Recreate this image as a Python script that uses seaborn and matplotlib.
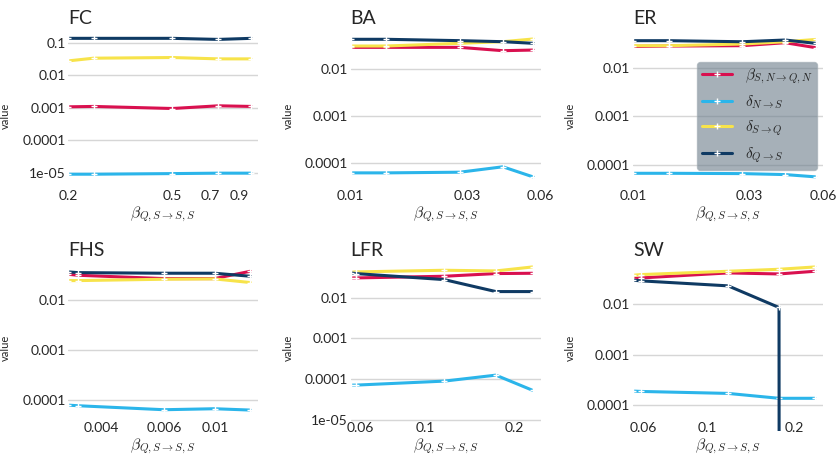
import numpy as np
import pandas as pd
import matplotlib
matplotlib.use("Agg")
import matplotlib.pyplot as plt
import matplotlib.ticker as mticker
import seaborn as sns

# ---------------- data ----------------
SERIES = [r"$\beta_{S,N\to Q,N}$", r"$\delta_{N\to S}$", r"$\delta_{S\to Q}$", r"$\delta_{Q\to S}$"]
COLORS = ["#d9104f", "#2bb5ea", "#f7e34a", "#0f3a63"]
PANELS = ["FC", "BA", "ER", "FHS", "LFR", "SW"]

FC_X = [0.2, 0.25, 0.5, 0.75, 1.0]
FC_BETA_SN = [0.00107, 0.0011, 0.00095, 0.00115, 0.0011]
FC_DELTA_NS = [9.1e-6, 9.1e-6, 9.5e-6, 9.8e-6, 9.8e-6]
FC_DELTA_SQ = [0.0276, 0.0334, 0.035, 0.0318, 0.0318]
FC_DELTA_QS = [0.136, 0.136, 0.136, 0.126, 0.136]
FC_TICKS = [0.2, 0.5, 0.7, 0.9]
FC_TICKLABELS = ["0.2", "0.5", "0.7", "0.9"]

BA_X = [0.01, 0.014, 0.028, 0.042, 0.056]
BA_BETA_SN = [0.0291, 0.0291, 0.0291, 0.0247, 0.0255]
BA_DELTA_NS = [6.0e-5, 6.0e-5, 6.2e-5, 8.1e-5, 4.9e-5]
BA_DELTA_SQ = [0.0311, 0.0311, 0.0355, 0.0385, 0.044]
BA_DELTA_QS = [0.0433, 0.0433, 0.0405, 0.0385, 0.0355]
BA_TICKS = [0.01, 0.03, 0.06]
BA_TICKLABELS = ["0.01", "0.03", "0.06"]

ER_X = [0.01, 0.014, 0.028, 0.042, 0.056]
ER_BETA_SN = [0.028, 0.0285, 0.029, 0.0334, 0.0264]
ER_DELTA_NS = [6.7e-5, 6.7e-5, 6.6e-5, 6.3e-5, 5.65e-5]
ER_DELTA_SQ = [0.029, 0.029, 0.0314, 0.035, 0.039]
ER_DELTA_QS = [0.0368, 0.0368, 0.035, 0.038, 0.0324]
ER_TICKS = [0.01, 0.03, 0.06]
ER_TICKLABELS = ["0.01", "0.03", "0.06"]

FHS_X = [0.00306, 0.0033, 0.0066, 0.0099, 0.0132]
FHS_BETA_SN = [0.0331, 0.0316, 0.0271, 0.0271, 0.038]
FHS_DELTA_NS = [7.9e-5, 7.7e-5, 6.4e-5, 6.7e-5, 6.3e-5]
FHS_DELTA_SQ = [0.0247, 0.0247, 0.0263, 0.0267, 0.0226]
FHS_DELTA_QS = [0.0369, 0.0357, 0.0347, 0.0347, 0.0302]
FHS_TICKS = [0.004, 0.0066, 0.01]
FHS_TICKLABELS = ["0.004", "0.006", "0.01"]

LFR_X = [0.0555, 0.0578, 0.1156, 0.1734, 0.2312]
LFR_BETA_SN = [0.031, 0.031, 0.0341, 0.0397, 0.0404]
LFR_DELTA_NS = [7.1e-5, 7.1e-5, 8.9e-5, 1.25e-4, 5.3e-5]
LFR_DELTA_SQ = [0.0428, 0.0436, 0.0479, 0.0461, 0.0578]
LFR_DELTA_QS = [0.0412, 0.0397, 0.0282, 0.0143, 0.0143]
LFR_TICKS = [0.06, 0.1, 0.2]
LFR_TICKLABELS = ["0.06", "0.1", "0.2"]

SW_X = [0.0554, 0.0592, 0.1184, 0.1777, 0.2368]
SW_BETA_SN = [0.0322, 0.0332, 0.0417, 0.0398, 0.045]
SW_DELTA_NS = [1.89e-4, 1.86e-4, 1.7e-4, 1.36e-4, 1.36e-4]
SW_DELTA_SQ = [0.0375, 0.0387, 0.045, 0.0493, 0.0548]
SW_DELTA_QS = [0.0299, 0.029, 0.0231, 0.0086, 0.0]
SW_TICKS = [0.06, 0.1, 0.2]
SW_TICKLABELS = ["0.06", "0.1", "0.2"]

DATA = {
    "FC": (FC_X, [FC_BETA_SN, FC_DELTA_NS, FC_DELTA_SQ, FC_DELTA_QS], FC_TICKS, FC_TICKLABELS),
    "BA": (BA_X, [BA_BETA_SN, BA_DELTA_NS, BA_DELTA_SQ, BA_DELTA_QS], BA_TICKS, BA_TICKLABELS),
    "ER": (ER_X, [ER_BETA_SN, ER_DELTA_NS, ER_DELTA_SQ, ER_DELTA_QS], ER_TICKS, ER_TICKLABELS),
    "FHS": (FHS_X, [FHS_BETA_SN, FHS_DELTA_NS, FHS_DELTA_SQ, FHS_DELTA_QS], FHS_TICKS, FHS_TICKLABELS),
    "LFR": (LFR_X, [LFR_BETA_SN, LFR_DELTA_NS, LFR_DELTA_SQ, LFR_DELTA_QS], LFR_TICKS, LFR_TICKLABELS),
    "SW": (SW_X, [SW_BETA_SN, SW_DELTA_NS, SW_DELTA_SQ, SW_DELTA_QS], SW_TICKS, SW_TICKLABELS),
}

# axis limits (layout)
YLIMS = {
    "FC": (10 ** -5.81, 10 ** -0.687),
    "BA": (10 ** -4.786, 10 ** -1.218),
    "ER": (10 ** -4.71, 10 ** -1.265),
    "FHS": (10 ** -4.62, 10 ** -1.28),
    "LFR": (10 ** -5.279, 10 ** -1.172),
    "SW": (10 ** -4.515, 10 ** -1.208),
}
XRIGHT_FACTOR = 1.066

# ---------------- style ----------------
sns.set_theme(style="whitegrid")
plt.rcParams["font.family"] = ["Lato", "DejaVu Sans"]
plt.rcParams["mathtext.fontset"] = "cm"
plt.rcParams["grid.color"] = "#d6d6d6"
plt.rcParams["grid.linewidth"] = 1.0

fig, axes = plt.subplots(2, 3, figsize=(8.38, 4.59), dpi=100)
fig.subplots_adjust(left=0.0815, right=0.9821, top=0.9292, bottom=0.061,
                    wspace=0.486, hspace=0.39)

palette = dict(zip(SERIES, COLORS))

for ax, name in zip(axes.flat, PANELS):
    xs, ys, ticks, ticklabels = DATA[name]
    rows = []
    for s, vals in zip(SERIES, ys):
        for x, v in zip(xs, vals):
            rows.append({"x": x, "value": v, "series": s})
    df = pd.DataFrame(rows)
    sns.lineplot(data=df, x="x", y="value", hue="series", hue_order=SERIES,
                 palette=palette, marker="+", markersize=5,
                 markeredgecolor="white", markeredgewidth=1.0,
                 linewidth=2.2, legend=False, ax=ax)
    ax.set_xscale("log")
    ax.set_yscale("log")
    ax.set_xlim(xs[0], xs[-1] * XRIGHT_FACTOR)
    ax.set_ylim(*YLIMS[name])
    ax.xaxis.set_minor_locator(mticker.NullLocator())
    ax.yaxis.set_minor_locator(mticker.NullLocator())
    ax.yaxis.set_major_locator(mticker.LogLocator(base=10, numticks=20))
    ax.yaxis.set_major_formatter(mticker.FuncFormatter(lambda v, _: f"{v:g}"))
    ax.set_xticks(ticks, ticklabels)
    ax.grid(axis="x", visible=False)
    ax.grid(axis="y", visible=True)
    ax.tick_params(axis="x", length=0, pad=-6.5, labelsize=10)
    ax.tick_params(axis="y", length=0, pad=2, labelsize=10)
    sns.despine(ax=ax, left=True, bottom=True)
    ax.set_title(name, loc="left", fontsize=14, pad=6)
    ax.set_xlabel(r"$\beta_{Q,S\to S,S}$", fontsize=11.5, labelpad=2)
    ax.set_ylabel("value", fontsize=8)
    ax.yaxis.set_label_coords(-0.30, 0.5)

    if name == "ER":
        lines = ax.get_lines()[:4]
        leg = ax.legend(lines, SERIES, loc="center right", fontsize=11,
                        frameon=True, facecolor="#6b7c8a", framealpha=0.6,
                        edgecolor="#9aa6ae", handlelength=2.0, labelspacing=0.5,
                        borderpad=0.3, handletextpad=0.8, borderaxespad=0.4)

fig.savefig("out.png", dpi=100)
